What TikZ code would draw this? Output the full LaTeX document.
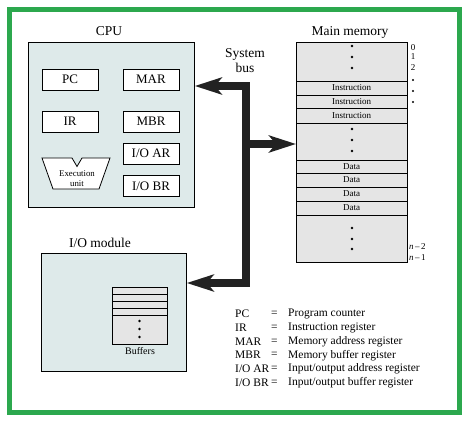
\documentclass[tikz,border=0pt]{standalone}
\usepackage{fontspec}
\setmainfont{Liberation Serif}
\usetikzlibrary{arrows.meta}
\definecolor{framegreen}{RGB}{44,168,78}
\definecolor{cpufill}{RGB}{222,234,234}
\definecolor{memfill}{RGB}{229,229,229}
\definecolor{busblack}{RGB}{34,34,34}
\tikzset{
  x=1pt,y=-1pt,
  every node/.style={font=\rmfamily},
  box/.style={draw=black,line width=0.8pt,inner sep=0pt,anchor=north west},
  reg/.style={draw=black,line width=0.8pt,fill=white,minimum width=56pt,minimum height=21pt,inner sep=0pt,font=\rmfamily\fontsize{13}{15}\selectfont},
  title/.style={font=\rmfamily\fontsize{13.5}{15}\selectfont,inner sep=0pt},
  small/.style={font=\rmfamily\fontsize{9}{10}\selectfont,inner sep=0pt},
  leg/.style={font=\rmfamily\fontsize{11.5}{13}\selectfont,inner sep=0pt,anchor=west},
  dot/.style={circle,fill=black,inner sep=0pt,minimum size=2.6pt},
  bus/.style={draw=busblack,line width=8pt,line join=miter,-{Stealth[length=27pt,width=17pt,inset=7pt]}},
  sep/.style={draw=black,line width=0.8pt}
}
\begin{document}
\begin{tikzpicture}
\useasboundingbox (0,0) rectangle (466,423);
\fill[white] (0,0) rectangle (466,423);
\draw[framegreen,line width=5pt] (9.5,9.5) rectangle (459.5,412.5);

% CPU
\node[box,fill=cpufill,minimum width=166pt,minimum height=165pt] (cpu) at (28,42) {};
\node[title] (cputitle) at (109,31) {CPU};
\node[reg] (pc) at (70,79.5) {PC};
\node[reg] (mar) at (151,79.5) {MAR};
\node[reg] (ir) at (70,121.5) {IR};
\node[reg] (mbr) at (151,121.5) {MBR};
\node[reg] (ioar) at (151,153.5) {I/O AR};
\node[reg] (iobr) at (151,186) {I/O BR};
\draw[line width=0.8pt,fill=white] (42,158)--(72,158)--(77,166.5)--(82,158)--(110,158)--(99,189)--(53,189)--cycle;
\node[small,align=center,font=\rmfamily\fontsize{8.8}{9.5}\selectfont] (exec) at (77,178.5) {Execution\\unit};

% Main memory
\node[box,fill=memfill,minimum width=111pt,minimum height=220pt] (mem) at (296,42) {};
\node[title] (memtitle) at (350,32) {Main memory};
\foreach \y in {81,95,108,123,160,173,187,201,215}
  \draw[sep] (mem.west |- 0,\y) -- (mem.east |- 0,\y);
\node[small] (i1) at (351.5,88) {Instruction};
\node[small] (i2) at (351.5,101.5) {Instruction};
\node[small] (i3) at (351.5,115.5) {Instruction};
\node[small] (d1) at (351.5,166.5) {Data};
\node[small] (d2) at (351.5,180) {Data};
\node[small] (d3) at (351.5,194) {Data};
\node[small] (d4) at (351.5,208) {Data};
\foreach \y [count=\i] in {46,57,68,129,140,151,228,239,249}
  \node[dot] (md\i) at (352,\y) {};
\node[small] (a0) at (413,47.5) {0};
\node[small] (a1) at (413,57) {1};
\node[small] (a2) at (413,67.5) {2};
\foreach \y [count=\i] in {80,91,102}
  \node[dot,minimum size=2.2pt] (ad\i) at (413,\y) {};
\node[small,anchor=west] (an2) at (409,247) {\textit{n}\,–\,2};
\node[small,anchor=west] (an1) at (409,258) {\textit{n}\,–\,1};

% I/O module
\node[box,fill=cpufill,minimum width=145pt,minimum height=118pt] (io) at (41,253) {};
\node[title] (iotitle) at (100,243) {I/O module};
\node[box,fill=memfill,minimum width=55pt,minimum height=57pt] (buf) at (112,287) {};
\foreach \y in {294,301,308.5,315.5}
  \draw[sep] (buf.west |- 0,\y) -- (buf.east |- 0,\y);
\foreach \y [count=\i] in {321,329,337}
  \node[dot] (bd\i) at (139.5,\y) {};
\node[small,font=\rmfamily\fontsize{10}{11}\selectfont] (buflabel) at (140,351) {Buffers};

% System bus
\node[title,align=center,font=\rmfamily\fontsize{13.5}{15.5}\selectfont] (bustitle) at (245,60.5) {System\\bus};
\coordinate (btop) at (246,86);
\coordinate (bmid) at (246,144);
\coordinate (bbot) at (246,283);
\draw[bus] (bbot) -- (btop) -- (cpu.east |- btop);
\draw[bus] (btop) -- (bbot) -- (io.east |- bbot);
\draw[bus] (bmid) -- (mem.west |- bmid);

% Legend
\foreach \a/\d [count=\i] in {{PC}/{Program counter},{IR}/{Instruction register},{MAR}/{Memory address register},{MBR}/{Memory buffer register},{I/O AR}/{Input/output address register},{I/O BR}/{Input/output buffer register}}{
  \pgfmathsetmacro{\yy}{300+\i*13.8}
  \node[leg] (la\i) at (235,\yy) {\a};
  \node[leg] (le\i) at (271,\yy) {=};
  \node[leg] (ld\i) at (288,\yy) {\d};
}
\end{tikzpicture}
\end{document}
